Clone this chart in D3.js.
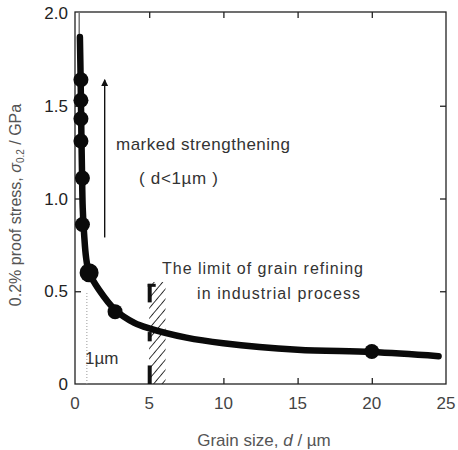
<!DOCTYPE html>
<html>
<head>
<meta charset="utf-8">
<script src="https://cdn.jsdelivr.net/npm/d3@7"></script>
<style>
body { margin:0; background:#fff; }
text { font-family: "Liberation Sans", Arial, sans-serif; }
</style>
</head>
<body>
<script>
// measured points (grain size in um, proof stress in GPa)
var pointX = [0.4, 0.4, 0.4, 0.4, 0.5, 0.5, 0.95, 2.7, 20];
var pointY = [1.64, 1.53, 1.43, 1.31, 1.11, 0.86, 0.60, 0.39, 0.175];
var pointR = [7.5, 7.5, 7.5, 7.5, 7.5, 7.5, 9.5, 7.5, 7.5];

// fitted curve
var curveX = [0.33, 0.38, 0.42, 0.47, 0.52, 0.62, 0.75, 0.95, 1.6, 2.7, 4, 5, 7.5, 10, 15, 20, 24.5];
var curveY = [1.87, 1.64, 1.4, 1.15, 0.95, 0.8, 0.68, 0.6, 0.51, 0.4, 0.33, 0.3, 0.25, 0.22, 0.185, 0.172, 0.15];

var xTicks = [0, 5, 10, 15, 20, 25];
var yTicks = [0, 0.5, 1.0, 1.5, 2.0];
var yTickLabels = ["0", "0.5", "1.0", "1.5", "2.0"];

// industrial limit band and its marker segments at d = 5
var bandX = [5, 6.1];
var bandTop = 0.55;
var barSegs = [[0.44, 0.54], [0.23, 0.28], [0, 0.1]];

var width = 458, height = 450;
var margin = {left:75, right:12, top:13, bottom:66};

var x = d3.scaleLinear().domain([0,25]).range([margin.left, width - margin.right]);
var y = d3.scaleLinear().domain([0,2]).range([height - margin.bottom, margin.top]);

var svg = d3.select("body").append("svg").attr("width",width).attr("height",height);

var defs = svg.append("defs");
var pat = defs.append("pattern").attr("id","hatch").attr("patternUnits","userSpaceOnUse")
  .attr("width",6.5).attr("height",6.5).attr("patternTransform","rotate(40)");
pat.append("line").attr("x1",0).attr("y1",0).attr("x2",0).attr("y2",6.5)
  .attr("stroke","#222").attr("stroke-width",1.8);

defs.append("marker").attr("id","arrow").attr("viewBox","0 0 10 10")
  .attr("refX",9).attr("refY",5).attr("markerWidth",15).attr("markerHeight",7)
  .attr("markerUnits","userSpaceOnUse").attr("orient","auto")
  .append("path").attr("d","M0,0 L10,5 L0,10 Z").attr("fill","#111");

// frame
svg.append("rect").attr("x",x(0)).attr("y",y(2)-1)
  .attr("width",x(25)-x(0)).attr("height",y(0)-y(2)+1)
  .attr("fill","none").attr("stroke","#222").attr("stroke-width",1.3);

// inward ticks on all sides
var xAxisB = d3.axisBottom(x).tickValues(xTicks.slice(1,5)).tickSize(-6).tickFormat("");
var xAxisT = d3.axisTop(x).tickValues(xTicks.slice(1,5)).tickSize(-6).tickFormat("");
var yAxisL = d3.axisLeft(y).tickValues([0.5,1.0,1.5]).tickSize(-6).tickFormat("");
var yAxisR = d3.axisRight(y).tickValues([0.5,1.0,1.5]).tickSize(-6).tickFormat("");
[[xAxisB,"translate(0,"+y(0)+")"],[xAxisT,"translate(0,"+(y(2)-1)+")"],
 [yAxisL,"translate("+x(0)+",0)"],[yAxisR,"translate("+x(25)+",0)"]].forEach(function(a){
  var g = svg.append("g").attr("transform",a[1]).call(a[0]);
  g.select(".domain").remove();
  g.selectAll("line").attr("stroke","#222").attr("stroke-width",1.3);
});

// tick labels
svg.selectAll(".xl").data(xTicks).enter().append("text")
  .attr("x",function(d){ return x(d); }).attr("y",y(0)+25)
  .attr("text-anchor","middle").attr("font-size",17).attr("fill","#444")
  .text(function(d){ return d; });
svg.selectAll(".yl").data(yTicks).enter().append("text")
  .attr("x",x(0)-7).attr("y",function(d){ return y(d)+6; })
  .attr("text-anchor","end").attr("font-size",17).attr("fill","#222")
  .text(function(d,i){ return yTickLabels[i]; });

// axis titles
var xt = svg.append("text").attr("x",264).attr("y",446).attr("text-anchor","middle")
  .attr("font-size",17).attr("fill","#555");
xt.append("tspan").text("Grain size, ");
xt.append("tspan").attr("font-style","italic").text("d");
xt.append("tspan").text(" / \u00b5m");

var yt = svg.append("text").attr("transform","translate(21,205) rotate(-90)")
  .attr("text-anchor","middle").attr("font-size",16).attr("fill","#555");
yt.append("tspan").text("0.2% proof stress, ");
yt.append("tspan").attr("font-style","italic").text("\u03c3");
yt.append("tspan").attr("font-size",10).attr("dy",3).text("0.2");
yt.append("tspan").attr("dy",-3).text(" / GPa");

// hatched band
svg.append("rect").attr("x",x(bandX[0])).attr("y",y(bandTop))
  .attr("width",x(bandX[1])-x(bandX[0])).attr("height",y(0)-y(bandTop))
  .attr("fill","url(#hatch)");
svg.selectAll(".seg").data(barSegs).enter().append("rect")
  .attr("x",x(5)-1.5).attr("y",function(d){ return y(d[1]); })
  .attr("width",4).attr("height",function(d){ return y(d[0]) - y(d[1]); })
  .attr("fill","#111");
svg.append("rect").attr("x",x(5)-1.5).attr("y",y(barSegs[0][1]))
  .attr("width",8).attr("height",3).attr("fill","#111");

// 1 um dotted guide
svg.append("line").attr("x1",x(0.8)).attr("x2",x(0.8)).attr("y1",y(0)).attr("y2",y(0.5))
  .attr("stroke","#999").attr("stroke-width",1).attr("stroke-dasharray","1,2");

// curve
var line = d3.line().x(function(d,i){ return x(curveX[i]); }).y(function(d){ return y(d); })
  .curve(d3.curveCatmullRom.alpha(0.5));
svg.append("line").attr("x1",x(0.28)).attr("x2",x(0.28)).attr("y1",y(2)).attr("y2",y(1.85))
  .attr("stroke","#333").attr("stroke-width",1);
svg.append("path").attr("d",line(curveY)).attr("fill","none").attr("stroke","#0a0a0a")
  .attr("stroke-width",6.5).attr("stroke-linejoin","round").attr("stroke-linecap","round");

// points
svg.selectAll(".pt").data(pointY).enter().append("circle")
  .attr("cx",function(d,i){ return x(pointX[i]); }).attr("cy",function(d){ return y(d); })
  .attr("r",function(d,i){ return pointR[i]; }).attr("fill","#0a0a0a");

// arrow
svg.append("line").attr("x1",x(2.0)).attr("x2",x(2.0)).attr("y1",y(0.79)).attr("y2",y(1.64))
  .attr("stroke","#111").attr("stroke-width",1.4).attr("marker-end","url(#arrow)");

// annotations
svg.append("text").attr("x",116).attr("y",150).attr("font-size",17).attr("fill","#333")
  .attr("textLength",174).attr("lengthAdjust","spacing").text("marked strengthening");
svg.append("text").attr("x",139).attr("y",184).attr("font-size",17).attr("fill","#333")
  .attr("textLength",79).attr("lengthAdjust","spacing").text("( d<1\u00b5m )");
svg.append("text").attr("x",162).attr("y",274).attr("font-size",16).attr("fill","#333")
  .attr("textLength",201).attr("lengthAdjust","spacing").text("The limit of grain refining");
svg.append("text").attr("x",197).attr("y",299).attr("font-size",16).attr("fill","#333")
  .attr("textLength",163).attr("lengthAdjust","spacing").text("in industrial process");
svg.append("text").attr("x",85).attr("y",364).attr("font-size",17).attr("fill","#333")
  .text("1\u00b5m");
</script>
</body>
</html>
